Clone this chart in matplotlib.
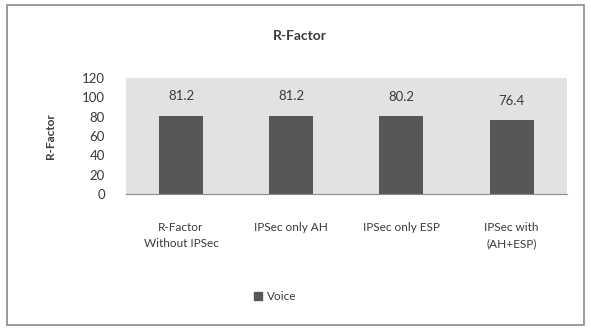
import matplotlib.pyplot as plt
from matplotlib.patches import Rectangle, Patch

plt.rcParams["font.family"] = ["Lato", "DejaVu Sans"]

categories = ["R-Factor\nWithout IPSec", "IPSec only AH", "IPSec only ESP", "IPSec with\n(AH+ESP)"]
values = [81.2, 81.2, 80.2, 76.4]
series_name = "Voice"

text_col = "#3a3a3a"
bar_col = "#575757"

fig = plt.figure(figsize=(5.91, 3.28), dpi=100)
fig.patches.append(Rectangle((0.012, 0.01), 0.976, 0.975, transform=fig.transFigure,
                             fill=False, edgecolor="#8a8a8a", linewidth=1.2))

ax = fig.add_axes([0.213, 0.409, 0.746, 0.353])
ax.set_facecolor("#e2e2e2")
x = range(len(categories))
bars = ax.bar(x, values, width=0.4, color=bar_col, label=series_name)
for xi, v in zip(x, values):
    ax.text(xi, v + 14, f"{v}", ha="center", va="bottom", fontsize=9.5, color=text_col)

ax.set_xlim(-0.5, len(categories) - 0.5)
ax.set_ylim(0, 120)
ax.set_yticks(range(0, 121, 20))
ax.set_xticks(list(x))
ax.set_xticklabels(categories, fontsize=8.5, color=text_col, linespacing=1.6)
ax.tick_params(axis="y", labelsize=9.5, labelcolor=text_col, length=0, pad=15)
ax.tick_params(axis="x", length=0, pad=20)
for s in ["top", "right", "left"]:
    ax.spines[s].set_visible(False)
ax.spines["bottom"].set_color("#8a8a8a")

ax.set_ylabel("R-Factor", fontsize=8.5, fontweight="bold", color=text_col, labelpad=19)
fig.text(0.508, 0.89, "R-Factor", ha="center", va="center", fontsize=10,
         fontweight="bold", color=text_col)

fig.legend(handles=[Patch(color=bar_col, label=series_name)], loc="center",
           bbox_to_anchor=(0.465, 0.095), frameon=False, fontsize=8.5,
           handlelength=0.7, handleheight=0.7, handletextpad=0.4,
           labelcolor=text_col)

fig.savefig("out.png", dpi=100)
